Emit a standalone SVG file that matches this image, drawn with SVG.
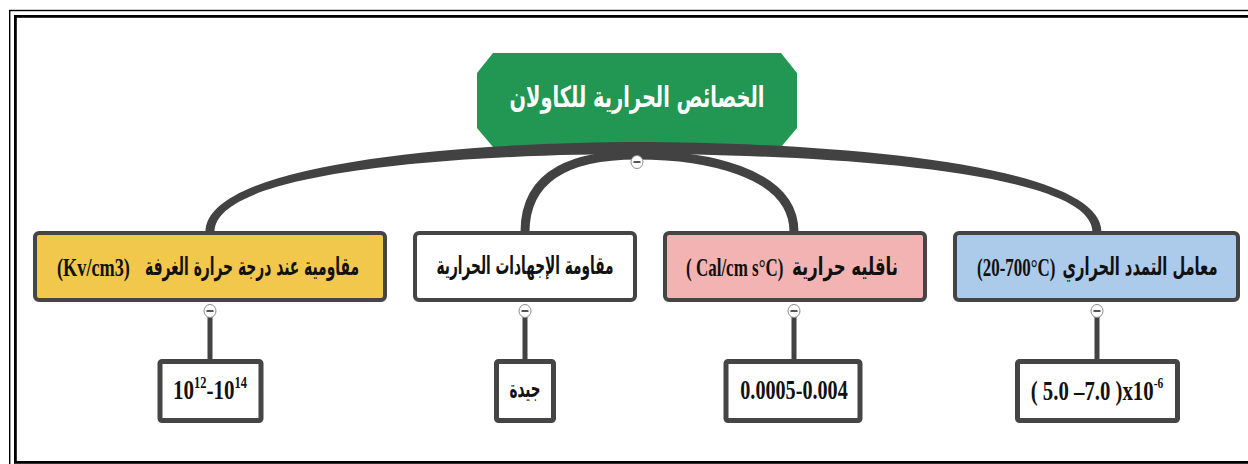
<svg xmlns="http://www.w3.org/2000/svg" width="1248" height="464" viewBox="0 0 1248 464">
  <style>
    .frame-outer { fill: none; stroke: #000; stroke-width: 1.4; }
    .frame-inner { fill: none; stroke: #000; stroke-width: 2.8; }
    .branch { fill: none; stroke: #424242; stroke-linecap: round; }
    .box { stroke: #454545; stroke-width: 4; }
    .val { fill: #fff; stroke: #454545; stroke-width: 5; }
    .lbl { font-family: "Liberation Serif", serif; font-weight: bold; fill: #111; direction: ltr; unicode-bidi: bidi-override; }
    .ar { font-family: "DejaVu Sans", sans-serif; font-weight: bold; fill: #111; text-anchor: middle; }
    .mid { text-anchor: middle; }
    .toggle { fill: #fff; stroke: #8a8a8a; stroke-width: 1; }
    .dash { stroke: #555; stroke-width: 2; }
  </style>

  <rect width="1248" height="464" fill="#fff"/>

  <!-- page frame (double rule) -->
  <rect class="frame-outer" x="9.7" y="10.5" width="1260" height="470"/>
  <rect class="frame-inner" x="15.4" y="16.4" width="1260" height="446"/>

  <!-- root topic -->
  <g id="root">
    <path d="M493,53 L781,53 L797,73 L797,128 L781,147 L493,147 L477,128 L477,73 Z" fill="#229653"/>
    <text class="ar" x="637" y="107" font-size="29" style="fill:#fff" textLength="255" lengthAdjust="spacingAndGlyphs">الخصائص الحرارية للكاولان</text>
  </g>

  <!-- connectors -->
  <g id="connectors">
    <!-- main arch to the outer topics (tapered) -->
    <path d="M205.5,232 C205.5,158 500,142 637,142 C790,142 1101.5,158 1101.5,232 L1092.5,232 C1092.5,166 785,154 637,154 C500,154 214.5,166 214.5,232 Z" fill="#424242"/>
    <!-- inner arch to the middle topics -->
    <path class="branch" stroke-width="9" d="M525,232 C525,170 580,155 637,155 C700,155 794,170 794,232"/>
    <!-- topic to value links -->
    <path class="branch" stroke-width="5" d="M210,316 V359 M525,316 V359 M794,316 V359 M1097,316 V359"/>
  </g>

  <!-- collapse toggles -->
  <g id="toggles">
    <ellipse class="toggle" cx="637" cy="162" rx="6" ry="6.5"/>
    <line class="dash" x1="633.5" y1="162" x2="640.5" y2="162"/>
    <ellipse class="toggle" cx="210" cy="311" rx="6" ry="6.5"/>
    <line class="dash" x1="206.5" y1="311" x2="213.5" y2="311"/>
    <ellipse class="toggle" cx="525" cy="311" rx="6" ry="6.5"/>
    <line class="dash" x1="521.5" y1="311" x2="528.5" y2="311"/>
    <ellipse class="toggle" cx="794" cy="311" rx="6" ry="6.5"/>
    <line class="dash" x1="790.5" y1="311" x2="797.5" y2="311"/>
    <ellipse class="toggle" cx="1097" cy="311" rx="6" ry="6.5"/>
    <line class="dash" x1="1093.5" y1="311" x2="1100.5" y2="311"/>
  </g>

  <!-- first-level topics -->
  <g id="resistivity">
    <rect class="box" x="35" y="233" width="350" height="67" rx="4" fill="#F1C84B"/>
    <text class="lbl" transform="translate(57,276) scale(0.73,1)" font-size="25">(Kv/cm3)</text>
    <text class="ar" x="252" y="275" font-size="25" textLength="214" lengthAdjust="spacingAndGlyphs">مقاومية عند درجة حرارة الغرفة</text>
  </g>
  <g id="shock-resistance">
    <rect class="box" x="415" y="233" width="220" height="67" rx="4" fill="#fff"/>
    <text class="ar" x="525" y="274" font-size="25" textLength="177" lengthAdjust="spacingAndGlyphs">مقاومة الإجهادات الحرارية</text>
  </g>
  <g id="conductivity">
    <rect class="box" x="665" y="233" width="260" height="67" rx="4" fill="#F2B3B2"/>
    <text class="lbl" transform="translate(686,276) scale(0.68,1)" font-size="25">( Cal/cm s°C)</text>
    <text class="ar" x="845" y="275" font-size="25" textLength="106" lengthAdjust="spacingAndGlyphs">ناقليه حرارية</text>
  </g>
  <g id="expansion">
    <rect class="box" x="955" y="233" width="283" height="67" rx="4" fill="#ACCBEA"/>
    <text class="lbl" transform="translate(977,276) scale(0.68,1)" font-size="25">(20-700°C)</text>
    <text class="ar" x="1140" y="275" font-size="25" textLength="155" lengthAdjust="spacingAndGlyphs">معامل التمدد الحراري</text>
  </g>

  <!-- values -->
  <g id="resistivity-value">
    <rect class="val" x="160" y="361.5" width="101" height="59" rx="2"/>
    <text class="lbl mid" transform="translate(210,399) scale(0.78,1)" font-size="27">10<tspan font-size="16" dy="-11">12</tspan><tspan dy="11">-10</tspan><tspan font-size="16" dy="-11">14</tspan></text>
  </g>
  <g id="shock-value">
    <rect class="val" x="496.5" y="361.5" width="57" height="59" rx="2"/>
    <text class="ar" x="525" y="397" font-size="24" textLength="31" lengthAdjust="spacingAndGlyphs">جيدة</text>
  </g>
  <g id="conductivity-value">
    <rect class="val" x="726" y="361.5" width="134" height="59" rx="2"/>
    <text class="lbl mid" transform="translate(794,399) scale(0.72,1)" font-size="28">0.0005-0.004</text>
  </g>
  <g id="expansion-value">
    <rect class="val" x="1017.5" y="361.5" width="160" height="59" rx="2"/>
    <text class="lbl mid" transform="translate(1097,400) scale(0.77,1)" font-size="27">( 5.0 –7.0 )x10<tspan font-size="15" dy="-12">-6</tspan></text>
  </g>
</svg>
